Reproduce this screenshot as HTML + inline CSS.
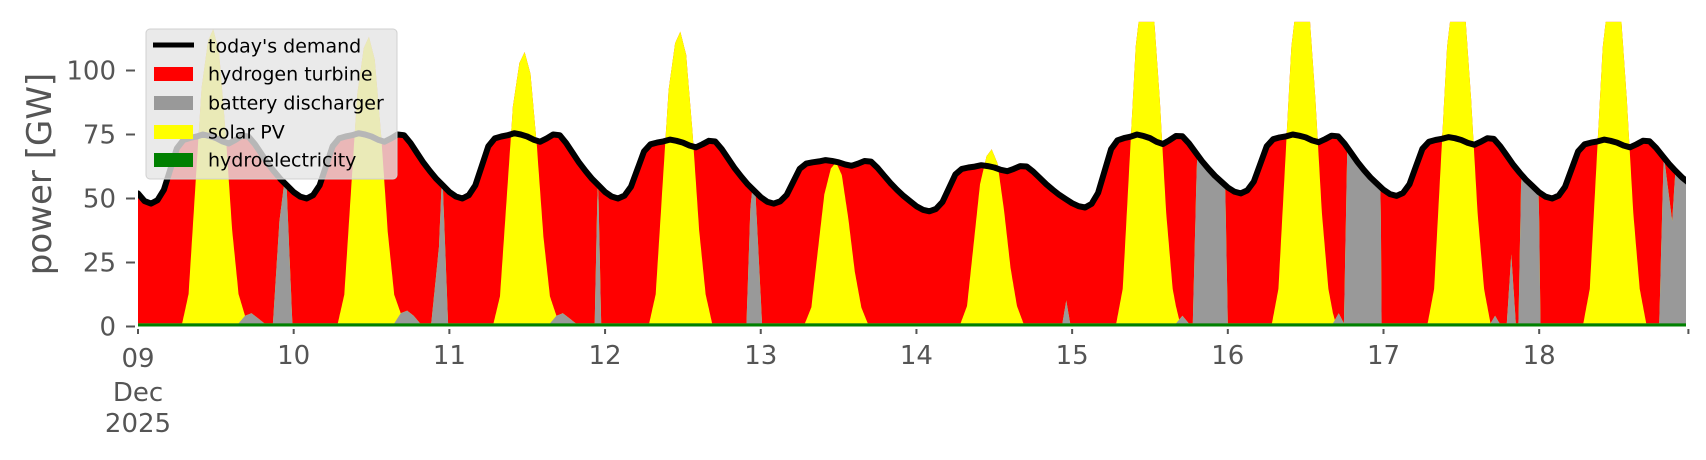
<!DOCTYPE html>
<html><head><meta charset="utf-8">
<style>
html,body{margin:0;padding:0;background:#fff;}
svg{display:block;font-family:"DejaVu Sans","Liberation Sans",sans-serif;}
</style></head>
<body>
<svg id="s" width="1706" height="460" viewBox="0 0 1706 460" xmlns="http://www.w3.org/2000/svg">
<defs><clipPath id="cp"><rect x="138" y="21.9" width="1548" height="310"/></clipPath></defs>
<g id="plot" clip-path="url(#cp)"></g>
<g id="axes" fill="#555" stroke="none"></g>
</svg>
<script>
const X0=138, PXH=6.487, Y0=326.5, PXG=2.56;
const X=h=>X0+h*PXH, Y=v=>Y0-v*PXG;
const mins=[48,50,50,50,48,45,46.5,52,51,50,52];
const maxs=[75,75.5,75.5,73,65,63,75,75,74,73];
const T={2:0,3:.05,4:.2,5:.5,6:.8,7:.92,8:.95,9:.97,10:1,11:.98,12:.95,13:.9,14:.87,15:.92,16:.98,17:.97,18:.85,19:.7,20:.55,21:.42,22:.3,23:.2,24:.1,25:.03};
const D=new Array(240).fill(0);D[0]=52;D[1]=49;
for(let d=0;d<10;d++){for(let h=2;h<=25;h++){const a=24*d+h;if(a>239)continue;
 const base=h<=16?mins[d]:mins[d+1];D[a]=base+(maxs[d]-base)*T[h];}}
const SP=[115,112,106,114,63,68,135,135,135,135];
const ST=[[6.8,0],[7.8,.1],[8.8,.45],[9.8,.8],[10.8,.96],[11.6,1],[12.5,.92],[13.5,.65],[14.5,.32],[15.5,.1],[16.5,0]];
function interp(pts,t){if(t<=pts[0][0]||t>=pts[pts.length-1][0])return 0;
 for(let i=1;i<pts.length;i++){if(t<=pts[i][0]){const [a,va]=pts[i-1],[b,vb]=pts[i];return va+(vb-va)*(t-a)/(b-a);}}return 0;}
function S(t){const d=Math.floor(t/24);if(d>9)return 0;return SP[d]*interp(ST,t-24*d);}
const BP=[
[[15.5,0],[16.5,3],[17.5,4],[18.5,2],[19.5,0]],
[[20.8,0],[21.8,40],[22.8,60],[23.8,0]],
[[39.5,0],[40.5,4],[41.5,5],[42.5,3],[43.5,0]],
[[45.2,0],[46.4,30],[46.9,60],[47.8,0]],
[[63.5,0],[64.5,3],[65.5,4],[66.5,2],[67.5,0]],
[[70.4,0],[70.9,60],[71.4,0]],
[[93.8,0],[94.4,45],[95.0,60],[96.2,0]],
[[142.5,0],[143.1,9],[143.7,0]],
[[160,0],[161,3],[162,0]],
[[162.6,0],[163.4,80],[167.4,80],[168,0]],
[[184.2,0],[185.1,4],[185.7,1],[185.9,0],[186.5,80],[191.5,80],[191.7,0]],
[[208.5,0],[209.2,3],[209.9,0]],
[[211,0],[211.7,27],[212.4,0]],
[[212.8,0],[213.4,80],[215.8,80],[216.2,0]],
[[234.5,0],[235.2,66],[236.5,40],[237.5,80],[239.1,80]]];
function B(t){let s=0;for(const p of BP)s+=interp(p,t);return s;}
function Dt(t){const i=Math.floor(t);if(i>=239)return D[239];return D[i]+(D[i+1]-D[i])*(t-i);}
const HY=1.2;
const pts=[];
for(let t=0;t<=239.001;t+=0.1){const d=Dt(t);let b=Math.min(B(t),d-HY);let s=S(t);const tot=Math.max(d,HY+b+s);
 pts.push({t,d,g:HY,gb:HY+b,gbs:HY+b+s,tot});}
function area(key,fill){let p=`M${X(0)},${Y(0)} `;for(const o of pts)p+=`L${X(o.t).toFixed(1)},${Y(o[key]).toFixed(1)} `;
 p+=`L${X(239)},${Y(0)} Z`;return `<path d="${p}" fill="${fill}"/>`;}
let g='';
g+=area('tot','#ff0000');g+=area('gbs','#ffff00');g+=area('gb','#999999');g+=area('g','#008000');
let l='';for(let h=0;h<240;h++)l+=(h?'L':'M')+X(h).toFixed(1)+','+Y(D[h]).toFixed(1)+' ';
g+=`<path d="${l}" fill="none" stroke="#000" stroke-width="6" stroke-linejoin="round" stroke-linecap="round"/>`;
g+=`<rect x="146" y="29" width="251" height="150" rx="4" fill="rgba(229,229,229,0.8)" stroke="#d0d0d0" stroke-width="1"/>`;
g+=`<line x1="153" y1="45" x2="194" y2="45" stroke="#000" stroke-width="5"/>`;
const lc=[['#ff0000','hydrogen turbine'],['#999999','battery discharger'],['#ffff00','solar PV'],['#008000','hydroelectricity']];
const ly=[46,74,103,132,160];
g+=`<text x="208" y="${ly[0]+6.5}" font-size="19" fill="#000">today's demand</text>`;
lc.forEach((c,i)=>{g+=`<rect x="154" y="${ly[i+1]-7}" width="39" height="14" fill="${c[0]}"/><text x="208" y="${ly[i+1]+6.5}" font-size="19" fill="#000">${c[1]}</text>`;});
document.getElementById('plot').innerHTML=g;
let a='';
[0,25,50,75,100].forEach(v=>{const y=Y(v);a+=`<rect x="126" y="${y-1}" width="9" height="2"/><text x="116" y="${y+9}" font-size="26" text-anchor="end">${v}</text>`;});
for(let d=0;d<=10;d++){const x=d<10?X(24*d):X(239);a+=`<rect x="${x-1}" y="329" width="2" height="5"/>`;
 if(d>=1&&d<=9)a+=`<text x="${x}" y="364" font-size="26" text-anchor="middle">${9+d}</text>`;}
a+=`<text x="138" y="367" font-size="26" text-anchor="middle">09</text>`;
a+=`<text x="138" y="401" font-size="26" text-anchor="middle">Dec</text>`;
a+=`<text x="138" y="432" font-size="26" text-anchor="middle">2025</text>`;
a+=`<text transform="translate(51,174) rotate(-90)" font-size="34" text-anchor="middle">power [GW]</text>`;
document.getElementById('axes').innerHTML=a;
</script>
</body></html>
